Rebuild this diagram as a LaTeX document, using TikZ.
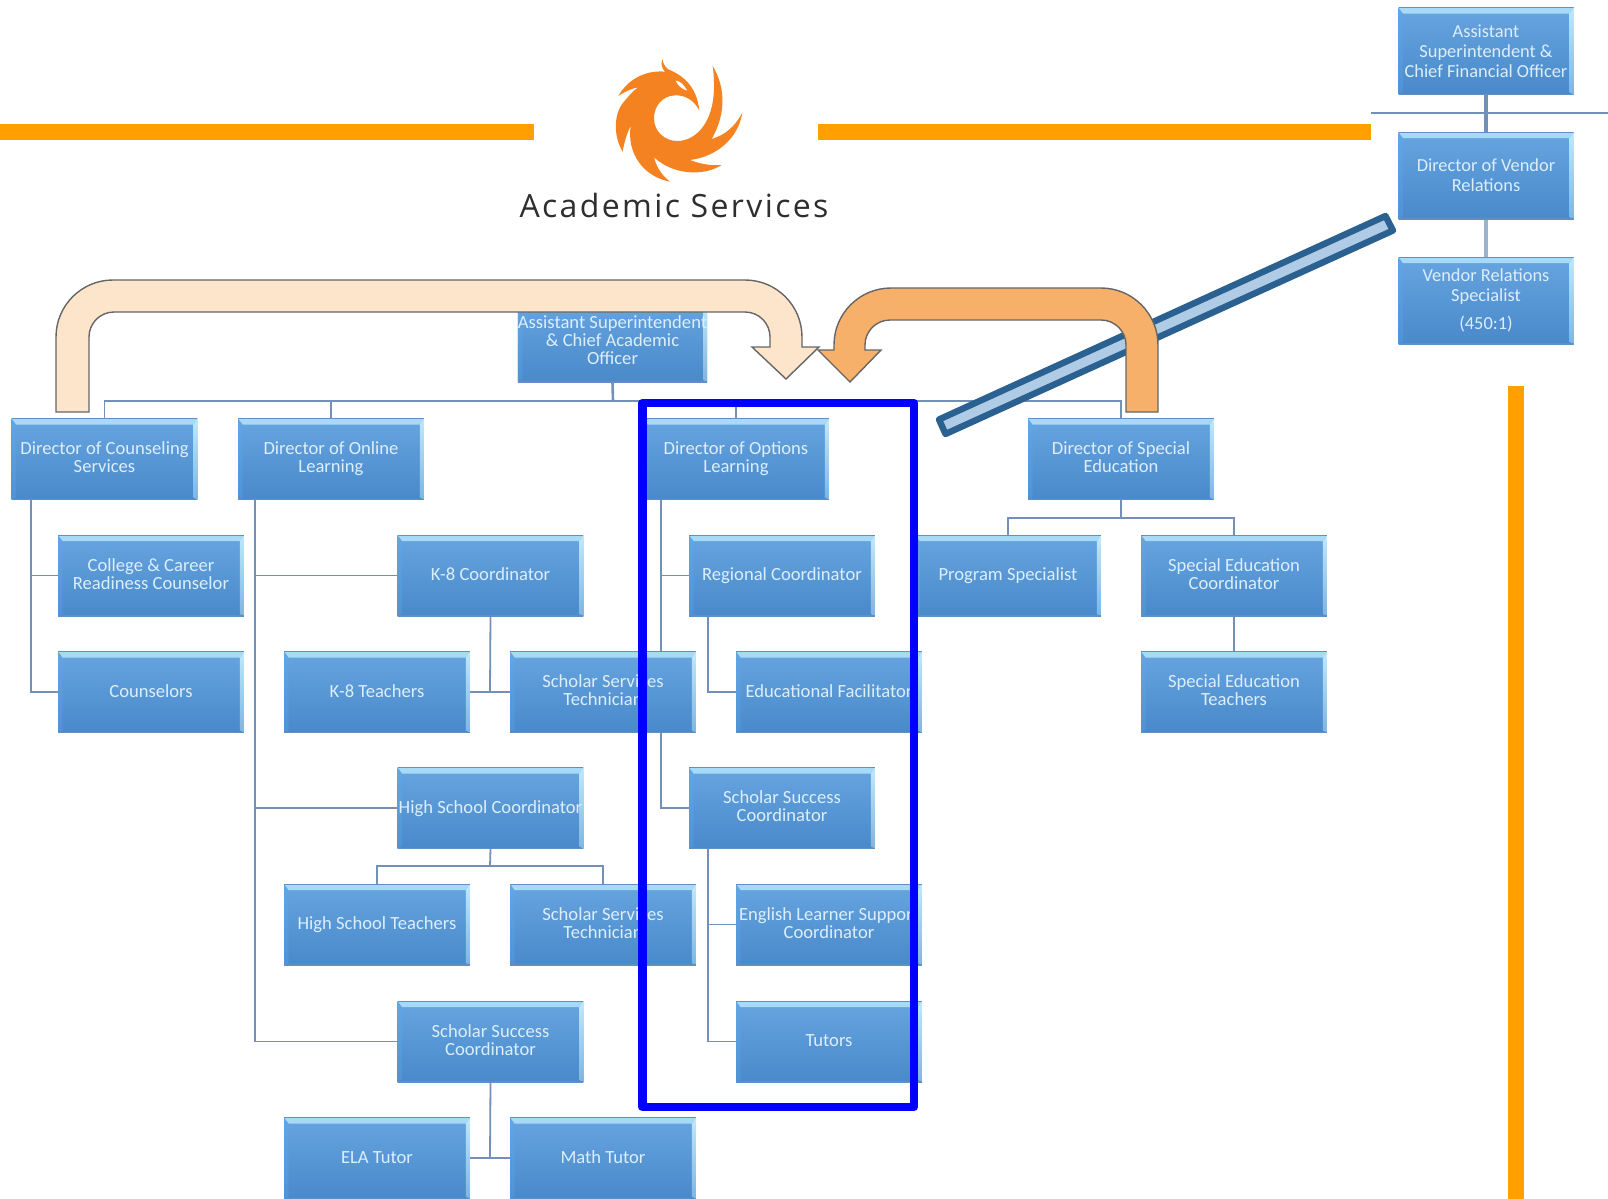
\documentclass[tikz,border=0pt]{standalone}
\usepackage{fontspec}
\setmainfont{Carlito}
\newfontfamily\titlefont[LetterSpace=7.4]{Open Sans}
\usetikzlibrary{backgrounds}
\definecolor{bevtop}{HTML}{A6DAF7}
\definecolor{bevright}{HTML}{BFE9FB}
\definecolor{bevrightlow}{HTML}{7FB5E2}
\definecolor{bevleft}{HTML}{62A6E4}
\definecolor{bevleftlow}{HTML}{4F93D6}
\definecolor{edgeb}{HTML}{5F8FC4}
\definecolor{conncol}{HTML}{7391B8}
\definecolor{boxtext}{HTML}{DCEEFB}
\definecolor{peach}{HTML}{FDE5CC}
\definecolor{apricot}{HTML}{F6B06A}
\definecolor{arrowedge}{HTML}{666666}
\definecolor{barfill}{HTML}{AFCBE5}
\definecolor{baredge}{HTML}{2A6190}
\definecolor{rule}{HTML}{FFA000}
\definecolor{phoenix}{HTML}{F58220}
\definecolor{boxtop}{HTML}{66A5E0}
\definecolor{boxbottom}{HTML}{4A89CA}
\newcommand{\linestrut}{\rule[-1.6pt]{0pt}{8.6pt}}
\tikzset{
  bevelbox/.style={rectangle,inner sep=0pt,align=center,text=boxtext,
    font=\fontsize{9.3}{9.1}\selectfont,
    top color=boxtop,bottom color=boxbottom,
    path picture={
      \shade[top color=bevleft,bottom color=bevleftlow] (path picture bounding box.north west) -- ([xshift=2.2pt,yshift=-3pt]path picture bounding box.north west) -- ([xshift=2.2pt,yshift=1pt]path picture bounding box.south west) -- (path picture bounding box.south west) -- cycle;
      \shade[top color=bevright,bottom color=bevrightlow] (path picture bounding box.north east) -- ([xshift=-2pt,yshift=-3pt]path picture bounding box.north east) -- ([xshift=-2pt,yshift=1pt]path picture bounding box.south east) -- (path picture bounding box.south east) -- cycle;
      \fill[bevtop] (path picture bounding box.north west) -- (path picture bounding box.north east) -- ([xshift=-2pt,yshift=-3pt]path picture bounding box.north east) -- ([xshift=2.2pt,yshift=-3pt]path picture bounding box.north west) -- cycle;
      \draw[edgeb,line width=.5pt] (path picture bounding box.north west) -- (path picture bounding box.north east);
      \draw[edgeb,line width=.9pt] (path picture bounding box.south west) -- (path picture bounding box.south east);
    }},
  orgbox/.style={bevelbox,minimum width=92.8pt,minimum height=40.5pt,
    execute at begin node=\linestrut,execute at end node=\linestrut},
  sidebox/.style={bevelbox,minimum width=87.5pt,minimum height=43.5pt,
    font=\fontsize{9.2}{10}\selectfont},
  conn/.style={draw=conncol,line width=.9pt},
  bigarrow/.style={draw=arrowedge,line width=.7pt,line join=miter},
  rulebar/.style={fill=rule},
}
\begin{document}
\begin{tikzpicture}[x=.5pt,y=-.5pt]
\useasboundingbox (0,0) rectangle (1608,1199);
% orange rules
\fill[rulebar] (0,124) rectangle (534,140);
\fill[rulebar] (818,124) rectangle (1371,140);
\fill[rulebar] (1508,386) rectangle (1524,1199);
% logo
\begin{scope}[shift={(500,40)},x=.16667pt,y=-.16667pt]
\fill[phoenix] (487,58) .. controls (490,75) and (500,85) .. (505,88)
 .. controls (545,105) and (590,135) .. (598,212)
 .. controls (585,185) and (560,165) .. (525,166)
 .. controls (485,168) and (462,200) .. (462,235)
 .. controls (462,275) and (495,303) .. (532,303)
 .. controls (590,303) and (660,240) .. (638,78)
 .. controls (670,130) and (685,210) .. (635,297)
 .. controls (675,285) and (705,260) .. (727,218)
 .. controls (715,295) and (650,350) .. (570,360)
 .. controls (600,372) and (635,378) .. (665,375)
 .. controls (610,410) and (520,405) .. (462,352)
 .. controls (470,385) and (490,410) .. (510,425)
 .. controls (430,410) and (380,340) .. (392,258)
 .. controls (380,280) and (372,310) .. (368,335)
 .. controls (340,290) and (340,220) .. (372,185)
 .. controls (385,170) and (400,150) .. (415,142)
 .. controls (395,145) and (375,155) .. (355,168)
 .. controls (385,115) and (440,90) .. (495,95)
 .. controls (485,85) and (482,70) .. (487,58) -- cycle;
\fill[white] (527,122) .. controls (540,122) and (552,135) .. (562,152) .. controls (545,148) and (533,135) .. (527,122) -- cycle;
\end{scope}
\node[anchor=base,font=\titlefont\fontsize{16}{18}\selectfont,text=black!82,inner sep=0pt] (title) at (674,217) {Academic Services};
% org chart
\node[orgbox] (root) at (612.5,341.5) {Assistant Superintendent\\\& Chief Academic\\Officer};
\node[orgbox] (dc) at (104.5,459) {Director of Counseling\\Services};
\node[orgbox] (dl) at (331,459) {Director of Online\\Learning};
\node[orgbox] (dp) at (736,459) {Director of Options\\Learning};
\node[orgbox] (ds) at (1121,459) {Director of Special\\Education};
\node[orgbox] (cc) at (151,575.5) {College \& Career\\Readiness Counselor};
\node[orgbox] (co) at (151,692) {Counselors};
\node[orgbox] (k8) at (490.5,575.5) {K-8 Coordinator};
\node[orgbox] (k8t) at (377,692) {K-8 Teachers};
\node[orgbox] (sst1) at (603,692) {Scholar Services\\Technician};
\node[orgbox] (hs) at (490.5,808) {High School Coordinator};
\node[orgbox] (hst) at (377,924.5) {High School Teachers};
\node[orgbox] (sst2) at (603,924.5) {Scholar Services\\Technician};
\node[orgbox] (ssc1) at (490.5,1041.5) {Scholar Success\\Coordinator};
\node[orgbox] (ela) at (377,1158) {ELA Tutor};
\node[orgbox] (math) at (603,1158) {Math Tutor};
\node[orgbox] (rc) at (782,575.5) {Regional Coordinator};
\node[orgbox] (ef) at (829,692) {Educational Facilitator};
\node[orgbox] (ssc2) at (782,808) {Scholar Success\\Coordinator};
\node[orgbox] (el) at (829,924.5) {English Learner Support\\Coordinator};
\node[orgbox] (tu) at (829,1041.5) {Tutors};
\node[orgbox] (ps) at (1008,575.5) {Program Specialist};
\node[orgbox] (se) at (1234,575.5) {Special Education\\Coordinator};
\node[orgbox] (st) at (1234,692) {Special Education\\Teachers};
\node[sidebox] (cfo) at (1486,51) {Assistant\\Superintendent \&\\Chief Financial Officer};
\node[sidebox] (dv) at (1486,175.5) {Director of Vendor\\Relations};
\node[sidebox] (vr) at (1486,300.5) {Vendor Relations\\Specialist\\[4pt](450:1)};
\coordinate (bus) at (613,401);
\coordinate (lineL) at (1371,113);
\coordinate (lineR) at (1608,113);
\coordinate (k8j) at (490,692);
\coordinate (hsj) at (490,866);
\coordinate (ssj) at (490,1158);
\coordinate (sej) at (1121,518);
\begin{scope}[on background layer]
\draw[conn,line width=1.3pt] (root.south) -- (bus);
\draw[conn] (dc.north) |- (bus) -| (ds.north);
\draw[conn] (bus -| dl.north) -- (dl.north);
\draw[conn] (bus -| dp.north) -- (dp.north);
\draw[conn] ([xshift=10pt]dc.south west) |- (cc.west);
\draw[conn] ([xshift=10pt]dc.south west) |- (co.west);
\draw[conn] ([xshift=8.5pt]dl.south west) |- (k8.west);
\draw[conn] ([xshift=8.5pt]dl.south west) |- (hs.west);
\draw[conn] ([xshift=8.5pt]dl.south west) |- (ssc1.west);
\draw[conn] (k8.south) -- (k8j);
\draw[conn] (k8t.east) -- (sst1.west);
\draw[conn] (hs.south) -- (hsj);
\draw[conn] (hst.north) |- (hsj) -| (sst2.north);
\draw[conn] (ssc1.south) -- (ssj);
\draw[conn] (ela.east) -- (math.west);
\draw[conn] ([xshift=9pt]dp.south west) |- (rc.west);
\draw[conn] ([xshift=9pt]dp.south west) |- (ssc2.west);
\draw[conn] ([xshift=9.5pt]rc.south west) |- (ef.west);
\draw[conn] ([xshift=9.5pt]ssc2.south west) |- (el.west);
\draw[conn] ([xshift=9.5pt]ssc2.south west) |- (tu.west);
\draw[conn] (ds.south) -- (sej);
\draw[conn] (ps.north) |- (sej) -| (se.north);
\draw[conn] (se.south) -- (st.north);
\draw[conn] (lineL) -- (lineR);
\draw[conn,line width=1.6pt] (cfo.south) -- (dv.north);
\draw[conn,draw=conncol!70!white,line width=1.6pt] (dv.south) -- (vr.north);
\end{scope}
% blue frame
\draw[blue,line width=4.2pt,line join=round] (642.5,403) rectangle (914,1107);
% slanted bar
\draw[draw=baredge,fill=barfill,line width=3.2pt,line join=round] (1385.5,216) -- (1393,230.5) -- (945.5,434) -- (939,419.5) -- cycle;
% big arrows
\draw[bigarrow,fill=peach] (56,412) -- (56,337) arc[start angle=180,end angle=90,radius=28.5pt] -- (745,280) arc[start angle=90,end angle=0,radius=28.5pt] -- (802,347) -- (819,347) -- (786,379) -- (752,347) -- (770,347) -- (770,337) arc[start angle=0,end angle=90,radius=12.5pt] -- (114,312) arc[start angle=90,end angle=180,radius=12.5pt] -- (89,412) -- cycle;
\draw[bigarrow,fill=apricot] (1158,412) -- (1158,345) arc[start angle=0,end angle=90,radius=28.5pt] -- (891,288) arc[start angle=90,end angle=180,radius=28.5pt] -- (834,350) -- (818,350) -- (850,382) -- (881,350) -- (865,350) -- (865,345) arc[start angle=180,end angle=90,radius=12.5pt] -- (1101,320) arc[start angle=90,end angle=0,radius=12.5pt] -- (1126,412) -- cycle;
\end{tikzpicture}
\end{document}
